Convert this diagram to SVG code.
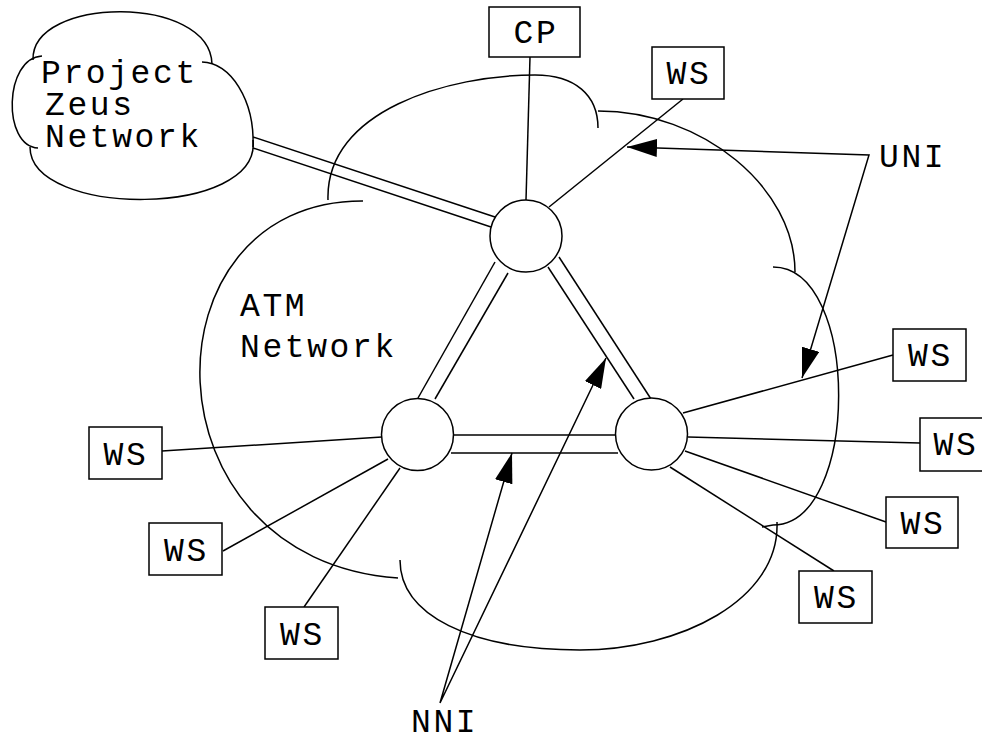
<svg xmlns="http://www.w3.org/2000/svg" width="982" height="736" viewBox="0 0 982 736">
  <style>
    .ln { fill: none; stroke: #000; stroke-width: 1.5; }
    .box { fill: #fff; stroke: #000; stroke-width: 1.5; }
    .sw { fill: #fff; stroke: #000; stroke-width: 1.5; }
    .lbl { font-family: "Liberation Mono", "DejaVu Sans Mono", monospace; font-size: 33px; letter-spacing: 2.6px; fill: #000; }
    .mid { text-anchor: middle; }
  </style>
  <defs>
    <marker id="arrow" viewBox="0 0 30 18" refX="30" refY="9" markerWidth="30" markerHeight="18" markerUnits="userSpaceOnUse" orient="auto-start-reverse">
      <path d="M0,0 L30,9 L0,18 Z" fill="#000"/>
    </marker>
  </defs>
  <rect width="982" height="736" fill="#fff"/>

  <!-- Project Zeus network cloud -->
  <g id="zeus-cloud">
    <path class="ln" d="M33,60 C31,-4 210,-6 212,64"/>
    <path class="ln" d="M202,62 C230,62 255,100 253,147"/>
    <path class="ln" d="M253,140 C262,218 30,218 30,147"/>
    <path class="ln" d="M38,148 C2,146 4,58 42,56"/>
    <text class="lbl" x="41" y="83">Project</text>
    <text class="lbl" x="45" y="115">Zeus</text>
    <text class="lbl" x="45" y="147">Network</text>
  </g>

  <!-- ATM network cloud -->
  <g id="atm-cloud">
    <path class="ln" d="M328,200 C325,110 450,75 535,75 C575,75 598,95 598,128"/>
    <path class="ln" d="M598,111 C703,111 795,188 795,272"/>
    <path class="ln" d="M773,267 C861,267 860,525 773,525 L762,527"/>
    <path class="ln" d="M777,522 C780,600 680,650 580,650 C470,650 400,615 400,560"/>
    <path class="ln" d="M363,201 C140,200 140,560 398,578"/>
    <text class="lbl" x="240" y="316">ATM</text>
    <text class="lbl" x="240" y="357">Network</text>
  </g>

  <!-- links and attachments -->
  <g id="connectors">
    <!-- trunk to Project Zeus -->
    <line class="ln" x1="253" y1="137" x2="495" y2="217"/>
    <line class="ln" x1="253" y1="148" x2="491" y2="227"/>
    <!-- switch-to-switch trunks -->
    <line class="ln" x1="435" y1="399" x2="508" y2="273"/>
    <line class="ln" x1="418" y1="398" x2="495" y2="262"/>
    <line class="ln" x1="548" y1="267" x2="634" y2="399"/>
    <line class="ln" x1="559" y1="257" x2="651" y2="399"/>
    <line class="ln" x1="453" y1="435" x2="616" y2="435"/>
    <line class="ln" x1="451" y1="453" x2="618" y2="453"/>
    <!-- top switch -->
    <line class="ln" x1="530" y1="57" x2="526" y2="200"/>
    <line class="ln" x1="683" y1="99" x2="549" y2="207"/>
    <!-- right switch -->
    <line class="ln" x1="683" y1="413" x2="893" y2="355"/>
    <line class="ln" x1="688" y1="437" x2="920" y2="443"/>
    <line class="ln" x1="685" y1="451" x2="886" y2="522"/>
    <line class="ln" x1="670" y1="467" x2="834" y2="571"/>
    <!-- left switch -->
    <line class="ln" x1="162" y1="451" x2="382" y2="437"/>
    <line class="ln" x1="223" y1="551" x2="388" y2="459"/>
    <line class="ln" x1="304" y1="607" x2="400" y2="468"/>
    <!-- interface callouts -->
    <path class="ln" d="M627,147 L869,155 L802,378" marker-start="url(#arrow)" marker-end="url(#arrow)"/>
    <path class="ln" d="M512,453 L440,703 L606,358" marker-start="url(#arrow)" marker-end="url(#arrow)"/>
  </g>

  <!-- switches -->
  <g id="switch-top"><circle class="sw" cx="526" cy="236" r="36"/></g>
  <g id="switch-left"><circle class="sw" cx="417.5" cy="434.5" r="36"/></g>
  <g id="switch-right"><circle class="sw" cx="651.5" cy="434" r="36"/></g>

  <!-- end stations -->
  <g id="cp"><rect class="box" x="489" y="7" width="91" height="50"/><text class="lbl mid" x="536" y="43">CP</text></g>
  <g id="ws-top"><rect class="box" x="652" y="47" width="72" height="52"/><text class="lbl mid" x="689" y="84">WS</text></g>
  <g id="ws-r1"><rect class="box" x="893" y="329" width="73" height="52"/><text class="lbl mid" x="930.5" y="366">WS</text></g>
  <g id="ws-r2"><rect class="box" x="920" y="418" width="73" height="53"/><text class="lbl mid" x="956" y="455">WS</text></g>
  <g id="ws-r3"><rect class="box" x="886" y="497" width="72" height="51"/><text class="lbl mid" x="923" y="534">WS</text></g>
  <g id="ws-r4"><rect class="box" x="799" y="571" width="73" height="52"/><text class="lbl mid" x="836.5" y="608">WS</text></g>
  <g id="ws-l1"><rect class="box" x="89" y="427" width="73" height="52"/><text class="lbl mid" x="126" y="465">WS</text></g>
  <g id="ws-l2"><rect class="box" x="149" y="523" width="73" height="52"/><text class="lbl mid" x="186.5" y="561">WS</text></g>
  <g id="ws-l3"><rect class="box" x="265" y="607" width="73" height="52"/><text class="lbl mid" x="302.5" y="645">WS</text></g>

  <!-- interface labels -->
  <g id="labels">
    <text class="lbl" x="879" y="167">UNI</text>
    <text class="lbl" x="411" y="732">NNI</text>
  </g>
</svg>
